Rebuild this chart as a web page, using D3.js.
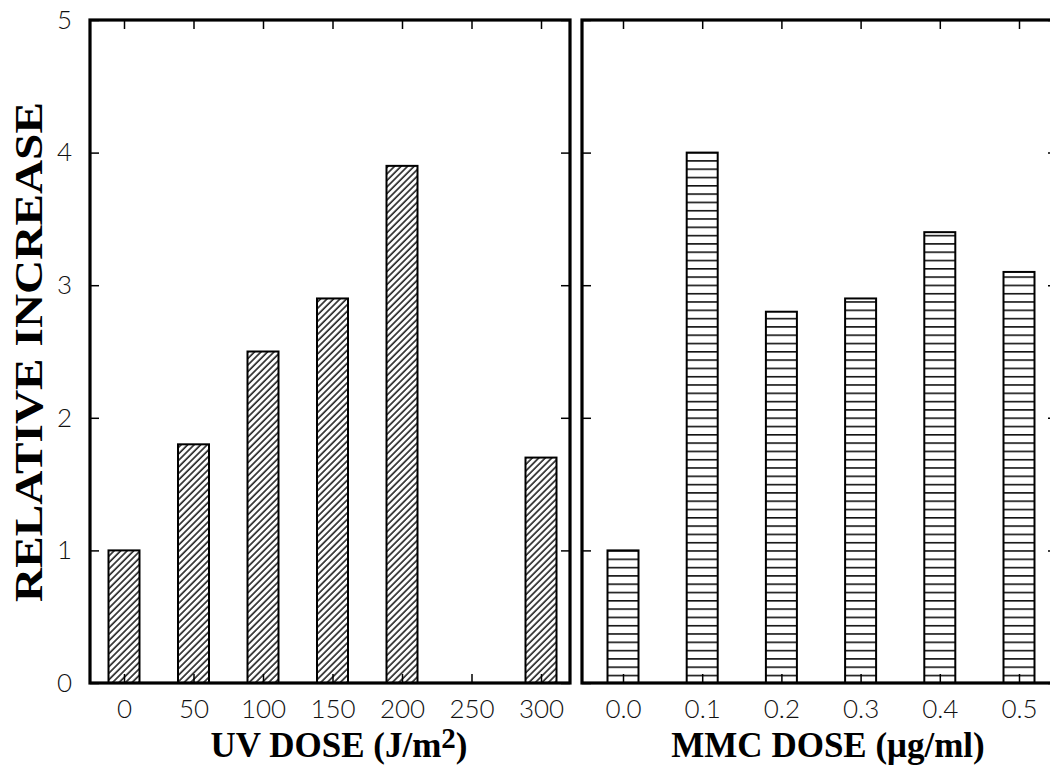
<!DOCTYPE html>
<html><head><meta charset="utf-8">
<script src="https://cdn.jsdelivr.net/npm/d3@7"></script>
<style>body{margin:0;background:#fff}</style>
</head><body>
<script>
const uvDoses = ["0","50","100","150","200","250","300"];
const uvValues = [1.0, 1.8, 2.5, 2.9, 3.9, null, 1.7];
const mmcDoses = ["0.0","0.1","0.2","0.3","0.4","0.5"];
const mmcValues = [1.0, 4.0, 2.8, 2.9, 3.4, 3.1];
const yTicks = [0,1,2,3,4,5];

const W = 1050, H = 771;
const svg = d3.select("body").append("svg").attr("width", W).attr("height", H);
const defs = svg.append("defs");
defs.append("pattern").attr("id","diag").attr("patternUnits","userSpaceOnUse")
  .attr("width",4.6).attr("height",10).attr("patternTransform","rotate(45)")
  .append("line").attr("x1",1).attr("y1",-1).attr("x2",1).attr("y2",11)
  .attr("stroke","#111").attr("stroke-width",1.5);
const hp = defs.append("pattern").attr("id","horiz").attr("patternUnits","userSpaceOnUse")
  .attr("width",10).attr("height",8.3).attr("y",683);
hp.append("line").attr("x1",-1).attr("x2",11).attr("y1",0.8).attr("y2",0.8)
  .attr("stroke","#111").attr("stroke-width",1.6);

const y = d3.scaleLinear().domain([0,5]).range([683,20]);
const tickFont = "Lato, 'Open Sans', 'DejaVu Sans', sans-serif";

function panel(x0, x1, cats, vals, xr, pat, showY) {
  const x = d3.scalePoint().domain(cats).range(xr);
  const g = svg.append("g");
  const bw = 31;
  g.selectAll("rect.bar").data(cats.map((c,i)=>({c, v: vals[i]})).filter(d=>d.v!=null))
    .enter().append("rect").attr("class","bar")
    .attr("x", d=>x(d.c)-bw/2).attr("width", bw)
    .attr("y", d=>y(d.v)).attr("height", d=>y(0)-y(d.v))
    .attr("fill", `url(#${pat})`).attr("stroke","#000").attr("stroke-width",2);
  const tl = 9;
  g.append("g").attr("transform",`translate(0,${y(0)})`)
    .call(d3.axisBottom(x).tickSizeInner(-tl).tickSizeOuter(0).tickPadding(17))
    .call(s=>s.select(".domain").remove())
    .call(s=>s.selectAll("line").attr("stroke","#000").attr("stroke-width",1.5))
    .call(s=>s.selectAll("text").attr("font-family",tickFont).attr("font-weight",300)
      .attr("font-size",26).attr("fill","#111"));
  g.append("g").attr("transform",`translate(0,${y(5)})`)
    .call(d3.axisTop(x).tickSizeInner(-tl).tickSizeOuter(0).tickFormat(""))
    .call(s=>s.select(".domain").remove())
    .call(s=>s.selectAll("line").attr("stroke","#000").attr("stroke-width",1.5));
  g.append("g").attr("transform",`translate(${x0},0)`)
    .call(d3.axisLeft(y).tickValues(yTicks).tickSizeInner(-tl).tickSizeOuter(0).tickPadding(18)
      .tickFormat(showY ? d3.format("d") : ""))
    .call(s=>s.select(".domain").remove())
    .call(s=>s.selectAll("line").attr("stroke","#000").attr("stroke-width",1.5))
    .call(s=>s.selectAll("text").attr("font-family",tickFont).attr("font-weight",300)
      .attr("font-size",26).attr("fill","#111"));
  g.append("g").attr("transform",`translate(${x1},0)`)
    .call(d3.axisRight(y).tickValues(yTicks).tickSizeInner(-tl).tickSizeOuter(0).tickFormat(""))
    .call(s=>s.select(".domain").remove())
    .call(s=>s.selectAll("line").attr("stroke","#000").attr("stroke-width",1.5));
  g.append("rect").attr("x",x0).attr("y",y(5)).attr("width",x1-x0).attr("height",y(0)-y(5))
    .attr("fill","none").attr("stroke","#000").attr("stroke-width",3.2);
  return x;
}

panel(90, 570, uvDoses, uvValues, [124, 541], "diag", true);
panel(582, 1057, mmcDoses, mmcValues, [623, 1019], "horiz", false);

const titleFont = "'Liberation Serif', 'Times New Roman', serif";
const t1 = svg.append("text").attr("x",339).attr("y",757).attr("text-anchor","middle")
  .attr("font-family",titleFont).attr("font-weight","bold").attr("font-size",35);
t1.append("tspan").text("UV DOSE (J/m");
t1.append("tspan").attr("dy",-9).attr("font-size",29).text("2");
t1.append("tspan").attr("dy",9).text(")");

svg.append("text").attr("x",828).attr("y",757).attr("text-anchor","middle")
  .attr("font-family",titleFont).attr("font-weight","bold").attr("font-size",35)
  .text("MMC DOSE (\u03bcg/ml)");

svg.append("text").attr("transform","translate(42,352) rotate(-90)").attr("text-anchor","middle")
  .attr("font-family",titleFont).attr("font-weight","bold").attr("font-size",40)
  .attr("textLength",500).attr("lengthAdjust","spacingAndGlyphs")
  .text("RELATIVE  INCREASE");
</script>
</body></html>
